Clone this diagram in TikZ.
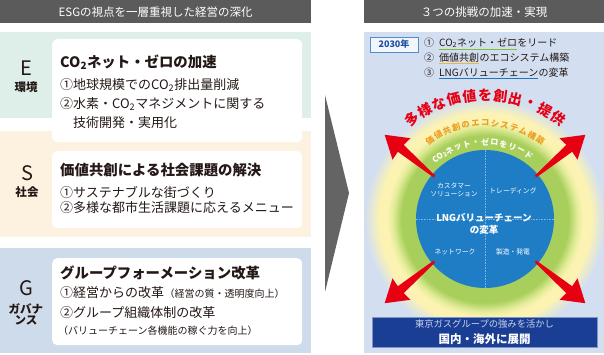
\documentclass[tikz,border=0pt]{standalone}
\usepackage{fontspec}
\setmainfont{Noto Sans CJK JP}
\usetikzlibrary{positioning}

\definecolor{hdrgray}{HTML}{5B5B5B}
\definecolor{mintbg}{HTML}{DDEFE8}
\definecolor{peachbg}{HTML}{FDF1E0}
\definecolor{govbg}{HTML}{CEDBEA}
\definecolor{panelbg}{HTML}{D3DFF0}
\definecolor{chevgray}{HTML}{646464}
\definecolor{txtdark}{HTML}{231815}
\definecolor{ringgreen}{HTML}{A8CF5C}
\definecolor{glowmid}{HTML}{E2EC98}
\definecolor{glowyellow}{HTML}{FCF3B2}
\definecolor{coreblue}{HTML}{1F7DC6}
\definecolor{divblue}{HTML}{7AB4E2}
\definecolor{arrowred}{HTML}{E60012}
\definecolor{navybox}{HTML}{1B3E95}
\definecolor{navytxt}{HTML}{C7D4EE}
\definecolor{ulgreen}{HTML}{7CC03A}
\definecolor{ulorange}{HTML}{F2B33D}
\definecolor{ulblue}{HTML}{2072C4}
\definecolor{yeartxt}{HTML}{1E4FA3}
\definecolor{arcorange}{HTML}{EC9E22}

\pgfdeclareradialshading{ringglow}{\pgfpoint{0bp}{0bp}}{%
  color(0bp)=(ringgreen); color(17.4bp)=(ringgreen); color(19.2bp)=(glowmid);
  color(20.4bp)=(glowyellow); color(22bp)=(glowyellow); color(25bp)=(panelbg);
  color(50bp)=(panelbg)}

\begin{document}
\begin{tikzpicture}[x=1pt, y=-1pt]
        % Define styles
        \tikzstyle{bar} = [rectangle, inner sep=0pt, anchor=north west]
        \tikzstyle{header} = [bar, fill=hdrgray, text=white, minimum height=23pt, font=\fontsize{11.5}{13}\selectfont]
        \tikzstyle{card} = [bar, fill=white, rounded corners=5pt, minimum width=250pt]
        \tikzstyle{letter} = [inner sep=0pt, text=txtdark, font=\fontsize{20}{22}\selectfont]
        \tikzstyle{theme} = [inner sep=0pt, text=txtdark, font=\fontsize{11.5}{13}\bfseries\selectfont]
        \tikzstyle{title} = [anchor=west, inner sep=0pt, text=txtdark, font=\fontsize{14.4}{16}\bfseries\selectfont]
        \tikzstyle{item} = [anchor=west, inner sep=0pt, text=txtdark, font=\fontsize{13}{15}\selectfont]
        \tikzstyle{note} = [anchor=west, inner sep=0pt, text=txtdark, font=\fontsize{10}{12}\selectfont]
        \tikzstyle{goal} = [anchor=west, inner sep=0pt, text=txtdark, font=\fontsize{10}{12}\selectfont]
        \tikzstyle{uline} = [line width=1.3pt]
        \tikzstyle{quad} = [inner sep=0pt, text=white, align=center, font=\fontsize{6.8}{8.5}\selectfont]
        \tikzstyle{redarc} = [inner sep=0pt, text=arrowred, font=\fontsize{14}{14}\bfseries\selectfont]
        \tikzstyle{yellowarc} = [inner sep=0pt, text=arcorange, font=\fontsize{8.3}{9}\bfseries\selectfont]
        \tikzstyle{greenarc} = [inner sep=0pt, text=white, font=\fontsize{8}{9}\bfseries\selectfont]

        \useasboundingbox (0,0) rectangle (604,355);

        % Left column
        \node (lefthdr) [header, minimum width=311pt] at (0,0) {ESGの視点を一層重視した経営の深化};
        \node (eband) [bar, fill=mintbg, minimum width=311pt, minimum height=86pt] at (0,32) {};
        \node (sband) [bar, fill=peachbg, minimum width=311pt, minimum height=106pt] at (0,131) {};
        \node (gband) [bar, fill=govbg, minimum width=311pt, minimum height=105pt] at (0,248) {};
        \node (ecard) [card, minimum height=103pt] at (52,39) {};
        \node (scard) [card, minimum height=77pt] at (52,151) {};
        \node (gcard) [card, minimum height=87pt] at (52,258) {};

        \node (eletter) [letter] at (26,68) {E};
        \node (etheme) [theme] at (26,87) {環境};
        \node (sletter) [letter] at (27,173) {S};
        \node (stheme) [theme] at (27,192) {社会};
        \node (gletter) [letter] at (26,288) {G};
        \node (gtheme) [theme, align=center] at (26,314) {ガバナ\\[-2pt]ンス};

        \node (etitle) [title] at (60,62) {CO\textsubscript{2}ネット・ゼロの加速};
        \node (eitem1) [item] at (60,85) {①地球規模でのCO\textsubscript{2}排出量削減};
        \node (eitem2) [item] at (60,104) {②水素・CO\textsubscript{2}マネジメントに関する};
        \node (eitem3) [item] at (73,123) {技術開発・実用化};

        \node (stitle) [title] at (60,170) {価値共創による社会課題の解決};
        \node (sitem1) [item] at (60,192) {①サステナブルな街づくり};
        \node (sitem2) [item] at (60,208) {②多様な都市生活課題に応えるメニュー};

        \node (gtitle) [title] at (60,273) {グループフォーメーション改革};
        \node (gitem1) [item] at (60,293) {①経営からの改革};
        \node (gnote1) [note, anchor=base west] at (gitem1.base east) {（経営の質・透明度向上）};
        \node (gitem2) [item] at (60,313) {②グループ組織体制の改革};
        \node (gnote2) [note] at (58,331) {（バリューチェーン各機能の稼ぐ力を向上）};

        % Chevron
        \fill[chevgray] (325,95) -- (349,193) -- (325,292) -- cycle;

        % Right panel
        \node (righthdr) [header, minimum width=240pt] at (364,0) {３つの挑戦の加速・実現};
        \node (panel) [bar, fill=panelbg, minimum width=240pt, minimum height=321pt] at (364,32) {};

        \node (year) [draw=ulblue!80, fill=white!70!panelbg, line width=0.8pt, minimum width=48pt, minimum height=15pt, inner sep=0pt, text=yeartxt, font=\fontsize{9}{10}\bfseries\selectfont] at (394,44.5) {2030年};

        \node (num1) [goal] at (424,43) {①};
        \node (goal1a) [goal] at (439,43) {CO\textsubscript{2}ネット・ゼロ};
        \node (goal1b) [goal, anchor=base west] at (goal1a.base east) {をリード};
        \node (num2) [goal] at (424,58) {②};
        \node (goal2a) [goal] at (439,58) {価値共創};
        \node (goal2b) [goal, anchor=base west] at (goal2a.base east) {のエコシステム構築};
        \node (num3) [goal] at (424,73) {③};
        \node (goal3a) [goal] at (439,73) {LNGバリューチェーン};
        \node (goal3b) [goal, anchor=base west] at (goal3a.base east) {の変革};
        \draw[uline, ulgreen] ([yshift=-1pt]goal1a.south west) -- ([yshift=-1pt]goal1a.south east);
        \draw[uline, ulorange] ([yshift=-1pt]goal2a.south west) -- ([yshift=-1pt]goal2a.south east);
        \draw[uline, ulblue] ([yshift=-1pt]goal3a.south west) -- ([yshift=-1pt]goal3a.south east);

        % Rings
        \node (glow) [circle, minimum size=240pt, inner sep=0pt, shading=ringglow] at (485,219) {};
        \node (core) [circle, minimum size=138pt, inner sep=0pt, fill=coreblue] at (485,219) {};
        \draw[divblue, densely dotted, line width=0.6pt] (core.north) -- (core.south);
        \draw[divblue, densely dotted, line width=0.6pt] (core.west) -- (core.east);

        \begin{scope}[shift={(core.center)}]
          % Arrows
          \foreach \ang in {40,140,220,320}
            \fill[arrowred, rotate=\ang] (66pt,-1.2pt) -- (110pt,-4.5pt) -- (109pt,-14pt) -- (131pt,0pt)
              -- (109pt,14pt) -- (110pt,4.5pt) -- (66pt,1.2pt) -- cycle;
          % Arc texts
          \foreach \ch [count=\i from 0] in {多,様,な,価,値,を,創,出,・,提,供} {
            \pgfmathsetmacro\ang{126-\i*7.2}
            \node[redarc, rotate=\ang-90] at (\ang:124pt) {\ch};
          }
          \foreach \ch [count=\i from 0] in {価,値,共,創,の,エ,コ,シ,ス,テ,ム,構,築} {
            \pgfmathsetmacro\ang{125-\i*5.85}
            \node[yellowarc, rotate=\ang-90] at (\ang:96pt) {\ch};
          }
          \node[greenarc, rotate=36] at (126:77pt) {CO\textsubscript{2}};
          \foreach \ch [count=\i from 0] in {ネ,ッ,ト,・,ゼ,ロ,を,リ,ー,ド} {
            \pgfmathsetmacro\ang{117.5-\i*6.9}
            \node[greenarc, rotate=\ang-90] at (\ang:77pt) {\ch};
          }
        \end{scope}

        \node (cust) [quad] at (454,190) {カスタマー\\ソリューション};
        \node (trade) [quad] at (513,191) {トレーディング};
        \node (netw) [quad] at (455,252) {ネットワーク};
        \node (gen) [quad] at (513,252) {製造・発電};
        \node (lng) [quad, font=\fontsize{9.5}{11.5}\bfseries\selectfont] at (484,224) {LNGバリューチェーン\\の変革};

        % Bottom box
        \node (base) [rectangle, fill=navybox, draw=navybox!55!white, line width=0.6pt, minimum width=225pt, minimum height=30pt, inner sep=0pt] at (484.5,332) {};
        \node (base1) [inner sep=0pt, text=navytxt, font=\fontsize{9.3}{11}\selectfont] at (484.5,323.5) {東京ガスグループの強みを活かし};
        \node (base2) [inner sep=0pt, text=white, font=\fontsize{11.5}{13}\bfseries\selectfont] at (484.5,339.5) {国内・海外に展開};
    \end{tikzpicture}
\end{document}
